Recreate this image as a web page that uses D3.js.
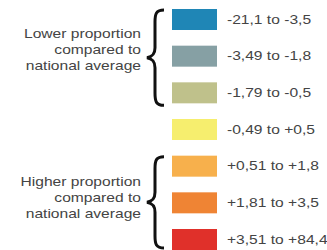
<!DOCTYPE html>
<html>
    <head>
        <title>Proportion legend</title>
        <script src="https://d3js.org/d3.v7.min.js"></script>
        <style>
            body { margin: 0; background: #fff; }
            text { font-family: "Liberation Sans", Arial, sans-serif; fill: #444; }
        </style>
    </head>
    <body>
        <script>
            // legend classes, top to bottom
            const classes = ["-21,1 to -3,5", "-3,49 to -1,8", "-1,79 to -0,5", "-0,49 to +0,5",
                             "+0,51 to +1,8", "+1,81 to +3,5", "+3,51 to +84,4"];
            const colors = ["#1f86b6", "#86a0a4", "#bfc18b", "#f6ee6e", "#f7b04c", "#ef8434", "#e0302a"];
            const groupLabels = [
                ["Lower proportion", "compared to", "national average"],
                ["Higher proportion", "compared to", "national average"]
            ];
            // which classes each brace spans
            const groupSpans = [[0, 2], [4, 6]];

            const width = 327;
            const height = 250;
            const boxH = 21;
            const stretch = 1.3;
            const labelShift = [-20, -16];   // first label baseline relative to brace tip

            const svg = d3.select("body")
                .append("svg")
                .attr("width", width)
                .attr("height", height);

            const y = d3.scalePoint()
                .domain(classes)
                .range([19.5, 239.5]);

            const g = svg.append("g");

            g.selectAll("rect")
                .data(classes)
                .enter()
                .append("rect")
                .attr("x", 172)
                .attr("y", d => y(d) - boxH / 2)
                .attr("width", 45)
                .attr("height", boxH)
                .attr("fill", (d, i) => colors[i]);

            g.selectAll("text.cls")
                .data(classes)
                .enter()
                .append("text")
                .attr("class", "cls")
                .attr("transform", d => `translate(227,${y(d) + 4.2}) scale(${stretch},1)`)
                .attr("font-size", 12)
                .text(d => d);

            function brace(x, y0, y1) {
                const m = (y0 + y1) / 2;
                const p = d3.path();
                p.moveTo(x + 17, y0);
                p.bezierCurveTo(x + 9, y0, x + 8, y0 + 4, x + 8, y0 + 12);
                p.lineTo(x + 8, m - 10);
                p.bezierCurveTo(x + 8, m - 3, x + 5, m - 1, x, m);
                p.bezierCurveTo(x + 5, m + 1, x + 8, m + 3, x + 8, m + 10);
                p.lineTo(x + 8, y1 - 12);
                p.bezierCurveTo(x + 8, y1 - 4, x + 9, y1, x + 17, y1);
                return p.toString();
            }

            groupSpans.forEach((span, gi) => {
                const top = y(classes[span[0]]) - boxH / 2 + 1;
                const bot = Math.min(y(classes[span[1]]) + boxH / 2 + 2, height - 2);
                const mid = (top + bot) / 2;
                svg.append("path")
                    .attr("d", brace(147, top, bot))
                    .attr("fill", "none")
                    .attr("stroke", "#111")
                    .attr("stroke-width", 3);

                svg.selectAll("text.grp" + gi)
                    .data(groupLabels[gi])
                    .enter()
                    .append("text")
                    .attr("class", "grp" + gi)
                    .attr("text-anchor", "end")
                    .attr("transform", (d, i) => `translate(141,${mid + labelShift[gi] + i * 16}) scale(${stretch},1)`)
                    .attr("font-size", 12)
                    .text(d => d);
            });
        </script>
    </body>
</html>
